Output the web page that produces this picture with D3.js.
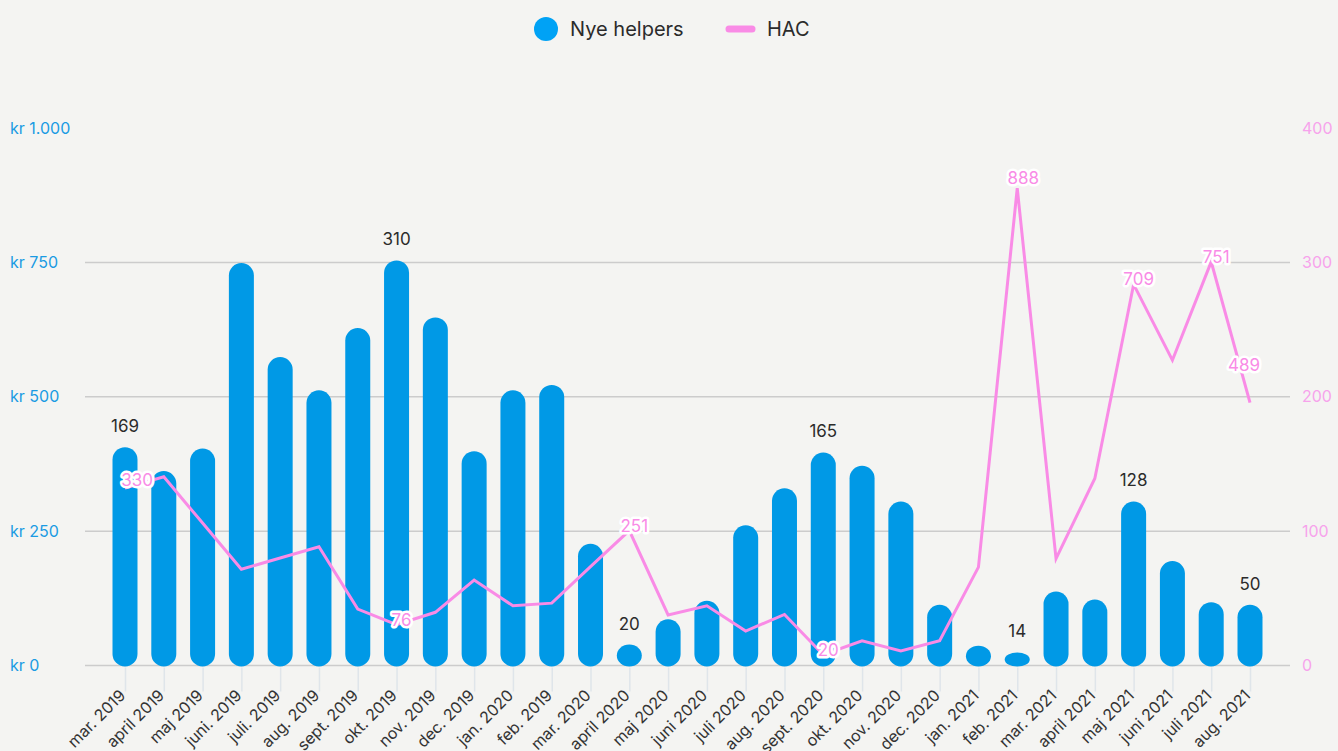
<!DOCTYPE html>
<html>
<head>
<meta charset="utf-8">
<script src="https://cdn.jsdelivr.net/npm/d3@7"></script>
<style>
  html, body { margin: 0; padding: 0; background: #f4f4f2; }
  svg { display: block; font-family: Inter, "Noto Sans", sans-serif; }
</style>
</head>
<body>
<div id="chart"></div>
<script>
// categories (x axis, as labelled in the source)
const months = ["mar. 2019", "april 2019", "maj 2019", "juni. 2019", "juli. 2019", "aug. 2019",
  "sept. 2019", "okt. 2019", "nov. 2019", "dec. 2019", "jan. 2020", "feb. 2019", "mar. 2020",
  "april 2020", "maj 2020", "juni 2020", "juli 2020", "aug. 2020", "sept. 2020", "okt. 2020",
  "nov. 2020", "dec. 2020", "jan. 2021", "feb. 2021", "mar. 2021", "april 2021", "maj 2021",
  "juni 2021", "juli 2021", "aug. 2021"];

// Nye helpers (bars)
const helpers = [169, 151, 168, 308, 237, 212, 259, 310, 267, 166, 212, 216, 96,
  20, 39, 53, 110, 138, 165, 155, 128, 50, 19, 14, 60, 54, 128, 83, 52, 50];

// HAC (line, kr)
const hac = [330, 351, 265, 179, 200, 221, 105, 76, 99, 159, 111, 116, 184,
  251, 94, 111, 64, 95, 20, 46, 27, 46, 183, 888, 199, 348, 709, 568, 751, 489];

// which points carry a value label
const barLabelIdx = [0, 7, 13, 18, 23, 26, 29];
const lineLabelIdx = [0, 7, 13, 18, 23, 26, 28, 29];

// axis ticks
const leftTicks = [0, 250, 500, 750, 1000];
const rightTicks = [0, 100, 200, 300, 400];

const width = 1338, height = 751;
const yBase = 665.5, yTop = 128;

const blue = "#0099e6";
const pink = "#f98be6";

const svg = d3.select("#chart").append("svg")
  .attr("width", width)
  .attr("height", height);

svg.append("rect").attr("width", width).attr("height", height).attr("fill", "#f4f4f2");

// Scales
const x = d3.scalePoint().domain(months).range([125, 1250]);
const yLeft = d3.scaleLinear().domain([0, 1000]).range([yBase, yTop]);
const yRight = d3.scaleLinear().domain([0, 400]).range([yBase, yTop]);
// bars sit on their own (hidden) scale
const yBar = d3.scaleLinear().domain([0, 410]).range([671, yTop]);

const kr = d3.formatLocale({ decimal: ",", thousands: ".", grouping: [3], currency: ["kr ", ""] }).format("$,");

// Gridlines
svg.append("g")
  .selectAll("line")
  .data(leftTicks.filter(d => d < 1000))
  .join("line")
  .attr("x1", 85)
  .attr("x2", 1290)
  .attr("y1", d => yLeft(d))
  .attr("y2", d => yLeft(d))
  .attr("stroke", "#cccccc")
  .attr("stroke-width", 1.5);

// X ticks
const xAxis = svg.append("g")
  .attr("transform", `translate(0,${yBase + 2})`)
  .call(d3.axisBottom(x).tickSize(24).tickSizeOuter(0));
xAxis.select(".domain").remove();
xAxis.selectAll(".tick line").attr("stroke", "#dfe5ea").attr("stroke-width", 1.5);
xAxis.selectAll(".tick text")
  .attr("text-anchor", "end")
  .attr("fill", "#333")
  .style("font-size", "16px")
  .style("font-family", "Inter, sans-serif")
  .attr("transform", "translate(-3,25) rotate(-45)")
  .attr("x", 0)
  .attr("y", 0)
  .attr("dy", "0.35em");

// Left axis
const leftAxis = svg.append("g")
  .call(d3.axisLeft(yLeft).tickValues(leftTicks).tickFormat(kr).tickSize(0));
leftAxis.select(".domain").remove();
leftAxis.selectAll("text")
  .attr("x", 10)
  .attr("text-anchor", "start")
  .attr("fill", "#1a9be3")
  .style("font-size", "16px")
  .style("font-family", "Inter, sans-serif");

// Right axis
const rightAxis = svg.append("g")
  .attr("transform", "translate(1302,0)")
  .call(d3.axisRight(yRight).tickValues(rightTicks).tickSize(0));
rightAxis.select(".domain").remove();
rightAxis.selectAll("text")
  .attr("x", 0)
  .attr("text-anchor", "start")
  .attr("fill", "#f7a3ec")
  .style("font-size", "16px")
  .style("font-family", "Inter, sans-serif");

// Bars
const barW = 25;
svg.append("g")
  .selectAll("rect")
  .data(helpers)
  .join("rect")
  .attr("x", (d, i) => x(months[i]) - barW / 2)
  .attr("y", d => yBar(d))
  .attr("width", barW)
  .attr("height", d => yBase + 1 - yBar(d))
  .attr("rx", barW / 2)
  .attr("fill", blue);

// Bar labels
svg.append("g")
  .selectAll("text")
  .data(barLabelIdx)
  .join("text")
  .attr("x", i => x(months[i]))
  .attr("y", i => yBar(helpers[i]) - 15)
  .attr("text-anchor", "middle")
  .attr("fill", "#2b2b2b")
  .style("font-size", "17px")
  .text(i => helpers[i]);

// Line
const line = d3.line()
  .x((d, i) => x(months[i]))
  .y(d => yLeft(d));

svg.append("path")
  .datum(hac)
  .attr("d", line)
  .attr("fill", "none")
  .attr("stroke", pink)
  .attr("stroke-width", 3)
  .attr("stroke-linejoin", "miter");

// Line labels (white halo)
const nudge = { 0: [12, -8], 23: [6, -10], 29: [-6, -38] };
svg.append("g")
  .selectAll("text")
  .data(lineLabelIdx)
  .join("text")
  .attr("x", i => x(months[i]) + (nudge[i] ? nudge[i][0] : 5))
  .attr("y", i => yLeft(hac[i]) + (nudge[i] ? nudge[i][1] : -5))
  .attr("dy", "0.35em")
  .attr("text-anchor", "middle")
  .attr("fill", pink)
  .attr("stroke", "#ffffff")
  .attr("stroke-width", 5)
  .attr("stroke-linejoin", "round")
  .attr("paint-order", "stroke")
  .style("font-size", "17px")
  .text(i => hac[i]);

// Legend
const legend = svg.append("g").attr("transform", "translate(0,29)");
legend.append("circle")
  .attr("cx", 546)
  .attr("cy", 0)
  .attr("r", 12)
  .attr("fill", "#00a2f5");
legend.append("text")
  .attr("x", 570)
  .attr("y", 0)
  .attr("dy", "0.35em")
  .attr("fill", "#2b2b2b")
  .style("font-size", "20px")
  .text("Nye helpers");
legend.append("line")
  .attr("x1", 729)
  .attr("x2", 752)
  .attr("y1", 0)
  .attr("y2", 0)
  .attr("stroke", pink)
  .attr("stroke-width", 7)
  .attr("stroke-linecap", "round");
legend.append("text")
  .attr("x", 767)
  .attr("y", 0)
  .attr("dy", "0.35em")
  .attr("fill", "#2b2b2b")
  .style("font-size", "20px")
  .text("HAC");
</script>
</body>
</html>
